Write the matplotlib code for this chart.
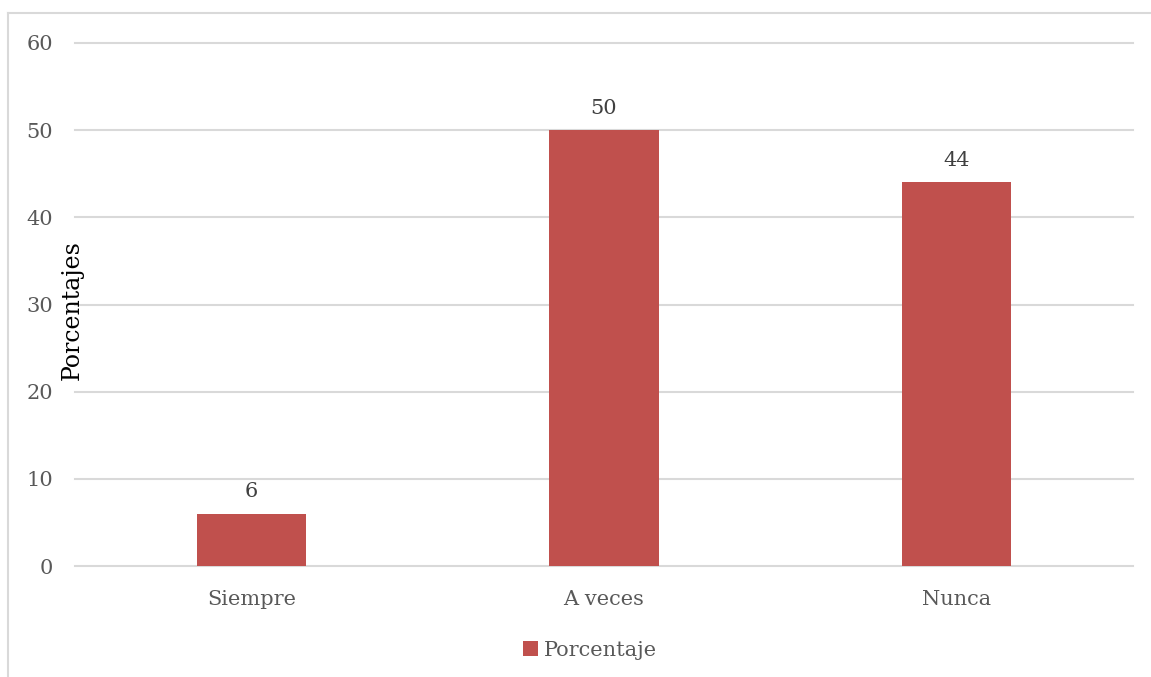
import matplotlib.pyplot as plt
from matplotlib.lines import Line2D

categorias = ["Siempre", "A veces", "Nunca"]
porcentaje = [6, 50, 44]
ticks_y = [0, 10, 20, 30, 40, 50, 60]

rojo = "#C0504D"
gris_txt = "#595959"
gris_linea = "#D9D9D9"

plt.rcParams["font.family"] = ["DejaVu Serif"]

fig = plt.figure(figsize=(11.51, 6.77), dpi=100)
ax = fig.add_axes([75 / 1151, 1 - 566 / 677, (1133 - 75) / 1151, (566 - 43) / 677])

x = range(len(categorias))
barras = ax.bar(x, porcentaje, width=0.31, color=rojo, label="Porcentaje", zorder=3)

for xi, v in zip(x, porcentaje):
    ax.annotate(str(v), (xi, v), xytext=(0, 9), textcoords="offset points",
                ha="center", va="bottom", fontsize=15, color="#404040")

ax.set_xlim(-0.5, 2.5)
ax.set_ylim(0, 60)
ax.set_yticks(ticks_y)
ax.set_xticks(list(x))
ax.set_xticklabels(categorias)
ax.tick_params(axis="both", length=0, labelsize=15, colors=gris_txt)
ax.tick_params(axis="y", pad=16)
ax.tick_params(axis="x", pad=17)
ax.grid(axis="y", color=gris_linea, lw=1.5, zorder=0)
for gl in ax.get_ygridlines():
    gl.set_clip_on(False)
for s in ax.spines.values():
    s.set_visible(False)

fig.text(72 / 1151, 1 - 310 / 677, "Porcentajes", rotation=90, ha="center", va="center",
         fontsize=17, color="black")

fig.legend(handles=[barras], labels=["Porcentaje"], loc="center", bbox_to_anchor=(590 / 1151, 1 - 650 / 677),
           frameon=False, fontsize=15, handlelength=0.7, handleheight=0.7, handletextpad=0.3,
           labelcolor=gris_txt)

# marco del gráfico
fig.add_artist(Line2D([8 / 1151, 1], [1 - 13 / 677, 1 - 13 / 677], color=gris_linea, lw=1.5))
fig.add_artist(Line2D([8 / 1151, 8 / 1151], [0, 1 - 13 / 677], color=gris_linea, lw=1.5))

fig.savefig("out.png", dpi=100)
